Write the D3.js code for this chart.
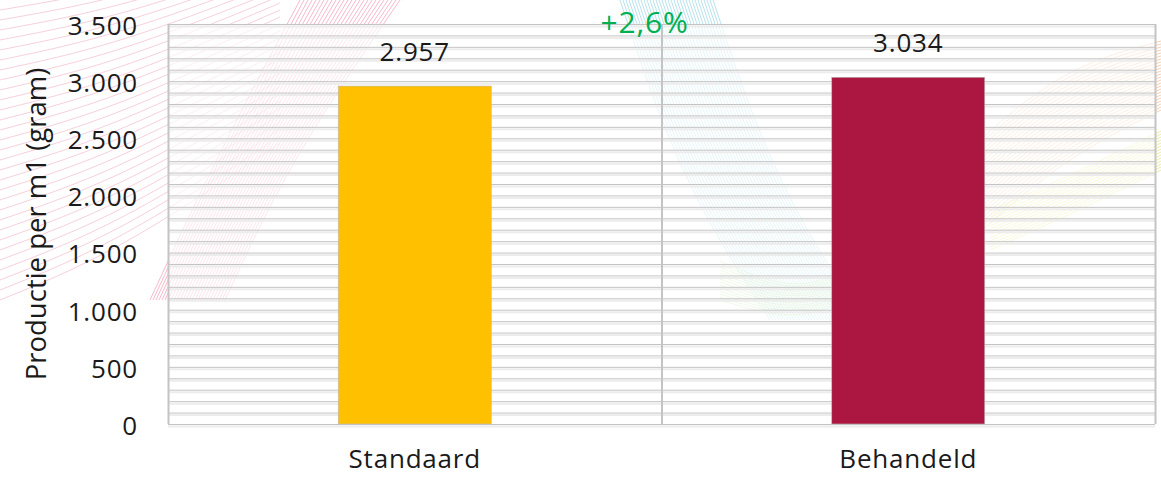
<!DOCTYPE html>
<html>
<head>
<meta charset="utf-8">
<script src="https://cdn.jsdelivr.net/npm/d3@7"></script>
<style>
  body { margin: 0; background: #fff; }
  text { font-family: "Open Sans", sans-serif; }
</style>
</head>
<body>
<div id="chart"></div>
<script>
// waarden uit de grafiek
var categories = ["Standaard", "Behandeld"];
var values = [2957, 3034];
var yTicks = [0, 500, 1000, 1500, 2000, 2500, 3000, 3500];
var increaseLabel = "+2,6%";
var yTitle = "Productie per m1 (gram)";

var width = 1161, height = 479;
var margin = {left: 168, right: 6, top: 24, bottom: 55};
var colors = ["#ffc000", "#ab1740"];
var fmt = function (v) { return d3.format(",")(v).replace(/,/g, "."); };

var svg = d3.select("#chart").append("svg")
    .attr("width", width).attr("height", height);

// decoratieve achtergrondlijnen (vage golven)
var deco = svg.append("g").attr("fill", "none");
function waves(col, op, n, f) {
    var line = d3.line().curve(d3.curveBasis);
    d3.range(n).forEach(function (i) {
        deco.append("path").attr("d", line(f(i))).attr("stroke", col)
            .attr("stroke-opacity", op).attr("stroke-width", 1);
    });
}
waves("#e98aa6", 0.4, 30, function (i) {
    return [[0, 10 + i * 10], [120, -10 + i * 9], [280, -60 + i * 7]];
});
waves("#f08aa8", 0.6, 26, function (i) {
    return [[150 + i * 3, 300], [215 + i * 3, 160], [300 + i * 4, 0]];
});
waves("#7fcde0", 0.55, 32, function (i) {
    return [[620 + i * 3, 0], [680 + i * 3, 180], [770 + i * 3, 320]];
});
waves("#a8e07a", 0.5, 14, function (i) {
    return [[720, 300 - i * 3], [820, 330 - i * 2], [900, 250 - i * 3]];
});
waves("#f5a060", 0.5, 24, function (i) {
    return [[960, 250 - i * 4], [1060, 160 - i * 4], [1161, 110 - i * 3]];
});
waves("#e0dc40", 0.5, 14, function (i) {
    return [[990, 250 - i * 3], [1080, 210 - i * 3], [1161, 170 - i * 3]];
});

var x = d3.scaleBand().domain(categories)
    .range([margin.left, width - margin.right]).paddingInner(0).paddingOuter(0);
var y = d3.scaleLinear().domain([0, 3500])
    .range([height - margin.bottom, margin.top]);

// tekengebied, halfdoorzichtig wit
svg.append("rect")
    .attr("x", margin.left).attr("y", margin.top)
    .attr("width", width - margin.left - margin.right)
    .attr("height", height - margin.top - margin.bottom)
    .attr("fill", "#fff").attr("fill-opacity", 0.65);

// rasterlijnen om de 100
var minor = d3.range(0, 3501, 100);
var grid = svg.append("g");
grid.selectAll("line.lo").data(minor).enter().append("line")
    .attr("x1", margin.left).attr("x2", width - margin.right)
    .attr("y1", function (d) { return y(d) + 2.5; })
    .attr("y2", function (d) { return y(d) + 2.5; })
    .attr("stroke", "#ececec").attr("stroke-width", 2);
grid.selectAll("line.hi").data(minor).enter().append("line")
    .attr("x1", margin.left).attr("x2", width - margin.right)
    .attr("y1", function (d) { return y(d) + 0.5; })
    .attr("y2", function (d) { return y(d) + 0.5; })
    .attr("stroke", "#c4c4c4").attr("stroke-width", 1);

// verticale scheidingslijnen
var seps = [margin.left, x(categories[1]), width - margin.right];
grid.selectAll("line.v").data(seps).enter().append("line")
    .attr("x1", function (d) { return d + 0.5; })
    .attr("x2", function (d) { return d + 0.5; })
    .attr("y1", margin.top).attr("y2", height - margin.bottom)
    .attr("stroke", "#c4c4c4").attr("stroke-width", 2);

// staven
var barW = 153;
svg.selectAll("rect.bar").data(values).enter().append("rect")
    .attr("class", "bar")
    .attr("x", function (d, i) { return x(categories[i]) + x.bandwidth() / 2 - barW / 2; })
    .attr("y", function (d) { return y(d); })
    .attr("width", barW)
    .attr("height", function (d) { return y(0) - y(d); })
    .attr("fill", function (d, i) { return colors[i]; })
    .attr("stroke", "#bbb").attr("stroke-width", 0.6);

// waardelabels
svg.selectAll("text.val").data(values).enter().append("text")
    .attr("x", function (d, i) { return x(categories[i]) + x.bandwidth() / 2; })
    .attr("y", function (d) { return y(d) - 25; })
    .attr("text-anchor", "middle")
    .attr("font-size", 26).attr("letter-spacing", 0.8).attr("fill", "#1a1a1a")
    .text(function (d) { return fmt(d); });

// y-as
var yAxis = svg.append("g")
    .attr("transform", "translate(" + margin.left + ",0)")
    .call(d3.axisLeft(y).tickValues(yTicks).tickSize(0).tickPadding(30).tickFormat(fmt));
yAxis.select(".domain").remove();
yAxis.selectAll("text").attr("font-size", 26).attr("letter-spacing", 0.8).attr("fill", "#1a1a1a")
    .attr("font-family", "Open Sans, sans-serif").attr("dy", "0.4em");

// x-as
var xAxis = svg.append("g")
    .attr("transform", "translate(0," + (height - margin.bottom) + ")")
    .call(d3.axisBottom(x).tickSize(0).tickPadding(26));
xAxis.select(".domain").remove();
xAxis.selectAll("text").attr("font-size", 26).attr("letter-spacing", 0.8).attr("fill", "#1a1a1a")
    .attr("font-family", "Open Sans, sans-serif");

// as-titel
svg.append("text")
    .attr("transform", "translate(46," + (margin.top + (height - margin.top - margin.bottom) / 2) + ") rotate(-90)")
    .attr("text-anchor", "middle")
    .attr("font-size", 27.5).attr("fill", "#1a1a1a")
    .text(yTitle);

// toename label
svg.append("text")
    .attr("x", x(categories[1]) - 17).attr("y", 33)
    .attr("text-anchor", "middle")
    .attr("font-size", 30).attr("letter-spacing", 0.8).attr("fill", "#00b050")
    .text(increaseLabel);
</script>
</body>
</html>
